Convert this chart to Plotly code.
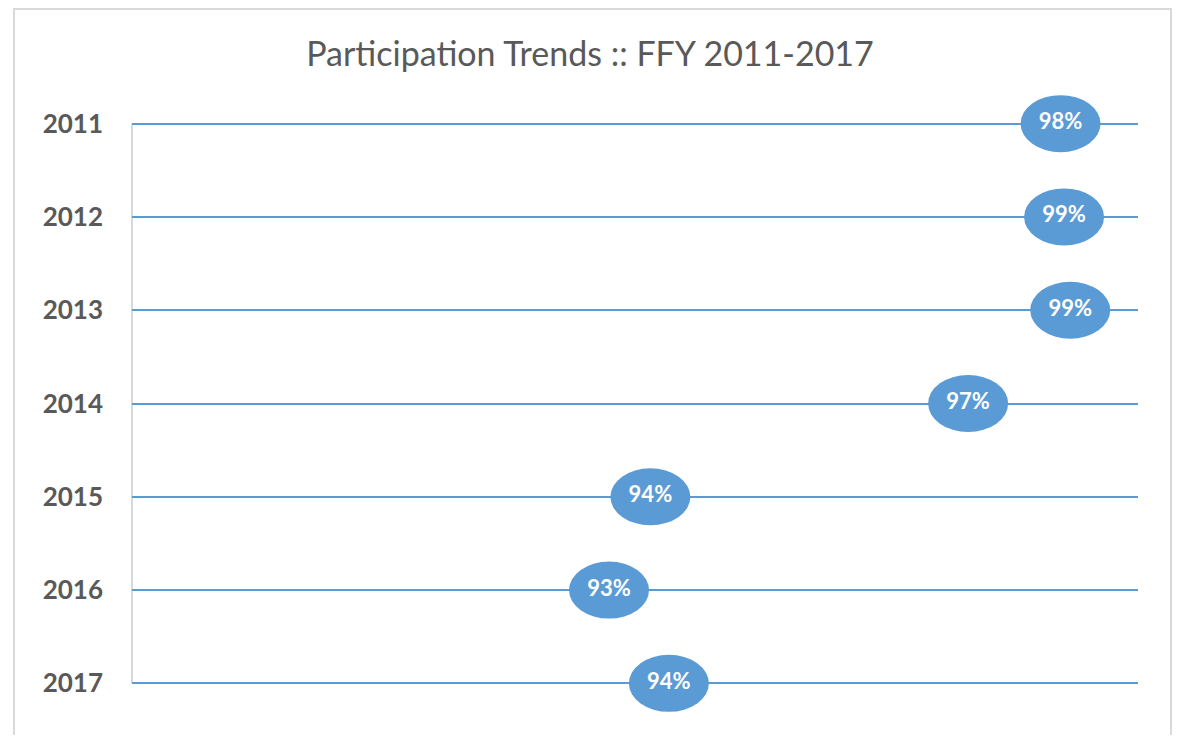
import plotly.graph_objects as go

years = ["2011", "2012", "2013", "2014", "2015", "2016", "2017"]
participation = [98.48, 98.52, 98.59, 97.43, 93.82, 93.35, 94.03]
title_text = "Participation Trends :: FFY 2011-2017"

BLUE = "#5b9bd5"
GREY = "#d9d9d9"
FONT = "Lato"

fig = go.Figure()

fig.add_trace(go.Scatter(
    x=participation, y=years, mode="text",
    texttemplate="%{x:.0f}%",
    textfont=dict(family=FONT, size=22, color="white", weight="bold"),
    hoverinfo="skip", showlegend=False,
))

shapes = []
for i, v in enumerate(participation):
    shapes.append(dict(
        type="circle", layer="between",
        xref="x", yref="y",
        xsizemode="pixel", ysizemode="pixel",
        xanchor=v, yanchor=i,
        x0=-40, x1=40, y0=-28.5, y1=28.5,
        fillcolor=BLUE, line=dict(width=0),
    ))

# vertical axis line between first and last category
shapes.append(dict(type="line", layer="below", xref="paper", yref="y",
                   x0=0, x1=0, y0=0, y1=len(years) - 1,
                   line=dict(color=GREY, width=2)))
# chart border
shapes.append(dict(type="rect", layer="below", xref="paper", yref="paper",
                   x0=-0.1173, x1=1.0328, y0=-0.2, y1=1.1040,
                   line=dict(color=GREY, width=2), fillcolor="rgba(0,0,0,0)"))

fig.update_layout(
    width=1164, height=727,
    margin=dict(l=124, r=34, t=69, b=5),
    paper_bgcolor="white", plot_bgcolor="white",
    shapes=shapes,
    title=dict(text=title_text, x=0.5, xanchor="center", y=1 - 46 / 727,
               yanchor="middle",
               font=dict(family=FONT, size=34, color="#595959")),
    xaxis=dict(range=[87.93, 99.36], showgrid=False, zeroline=False,
               showticklabels=False, showline=False, fixedrange=True),
    yaxis=dict(type="category", categoryorder="array", categoryarray=years,
               range=[6.5, -0.5], showgrid=True, gridcolor=BLUE, gridwidth=2,
               showline=False, zeroline=False, ticks="",
               ticklabelstandoff=28,
               tickfont=dict(family=FONT, size=26, color="#595959", weight="bold"),
               fixedrange=True),
    hovermode=False,
)

fig.write_html("out.html")
